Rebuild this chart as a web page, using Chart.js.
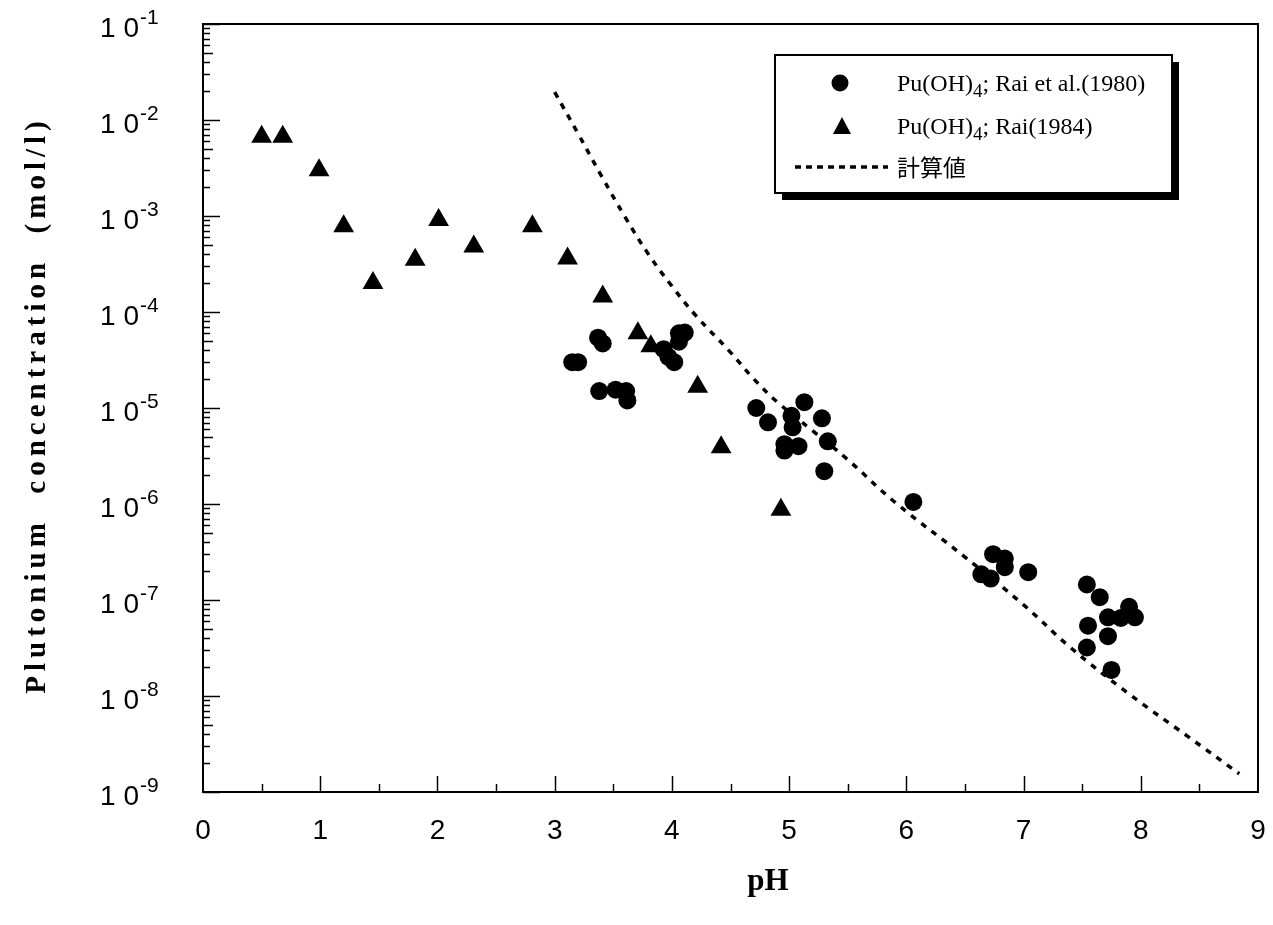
<!DOCTYPE html>
<html>
<head>
<meta charset="utf-8">
<script src="https://cdn.jsdelivr.net/npm/chart.js@4.4.1/dist/chart.umd.min.js"></script>
<style>
  html, body { margin: 0; padding: 0; background: #fff; }
  #wrap { width: 1273px; height: 925px; position: relative; }
</style>
</head>
<body>
<div id="wrap"><canvas id="chart"></canvas></div>
<script>
"use strict";

// Pu(OH)4; Rai et al.(1980)  — circles
const rai1980PH = [3.15, 3.20, 3.37, 3.41, 3.38, 3.52, 3.61, 3.62, 3.93, 3.97, 4.02, 4.06, 4.11, 4.06,
                   4.72, 4.82, 5.02, 5.03, 5.13, 5.28, 4.96, 4.96, 5.08, 5.33, 5.30,
                   6.06, 6.74, 6.84, 6.84, 6.64, 6.72, 7.04, 7.54, 7.65, 7.90, 7.95, 7.83, 7.72, 7.55, 7.72, 7.54, 7.75];
const rai1980Conc = [3.0e-5, 3.0e-5, 5.4e-5, 4.7e-5, 1.5e-5, 1.55e-5, 1.5e-5, 1.2e-5, 4.1e-5, 3.4e-5, 3.0e-5, 6.0e-5, 6.1e-5, 4.9e-5,
                     1.0e-5, 7.1e-6, 8.3e-6, 6.3e-6, 1.15e-5, 7.8e-6, 4.2e-6, 3.6e-6, 4.0e-6, 4.5e-6, 2.2e-6,
                     1.05e-6, 3.0e-7, 2.2e-7, 2.7e-7, 1.85e-7, 1.67e-7, 1.95e-7, 1.45e-7, 1.07e-7, 8.5e-8, 6.6e-8, 6.5e-8, 6.6e-8, 5.4e-8, 4.2e-8, 3.2e-8, 1.87e-8];

// Pu(OH)4; Rai(1984) — triangles
const rai1984PH   = [0.50, 0.68, 0.99, 1.20, 1.45, 1.81, 2.01, 2.31, 2.81, 3.11, 3.41, 3.71, 3.82, 4.22, 4.42, 4.93];
const rai1984Conc = [6.7e-3, 6.7e-3, 3.0e-3, 7.8e-4, 2.0e-4, 3.5e-4, 9.1e-4, 4.8e-4, 7.8e-4, 3.6e-4, 1.45e-4, 6.0e-5, 4.4e-5, 1.66e-5, 3.9e-6, 8.7e-7];

// 計算値 — dotted curve
const calcPH   = [3.0, 3.2, 3.4, 3.6, 3.8, 4.0, 4.2, 4.5, 4.7, 4.9, 5.2, 5.5, 5.9, 6.5, 7.0, 7.4, 7.9, 8.4, 8.84];
const calcConc = [1.95e-2, 7.2e-3, 2.6e-3, 9.8e-4, 4.0e-4, 1.86e-4, 9.3e-5, 3.8e-5, 2.0e-5, 1.15e-5, 5.8e-6, 2.9e-6, 1.05e-6, 2.8e-7, 8.9e-8, 3.2e-8, 1.05e-8, 3.8e-9, 1.55e-9];

const xTicks = [0, 1, 2, 3, 4, 5, 6, 7, 8, 9];
const yExponents = [-1, -2, -3, -4, -5, -6, -7, -8, -9];

const labels = {
  rai1980: ["Pu(OH)", "4", "; Rai et al.(1980)"],
  rai1984: ["Pu(OH)", "4", "; Rai(1984)"],
  calc: "計算値",
  yTitle: "Plutonium  concentration  (mol/l)",
  xTitle: "pH",
};

const toPts = (xs, ys) => xs.map((x, i) => ({ x, y: ys[i] }));

const SERIF = "'Liberation Serif', 'Times New Roman', serif";
const SANS  = "'Liberation Sans', Arial, sans-serif";

const decor = {
  id: "decor",
  afterDraw(chart) {
    const { ctx, chartArea: a, scales: { x, y } } = chart;
    ctx.save();
    ctx.strokeStyle = "#000";
    ctx.fillStyle = "#000";

    // frame
    ctx.lineWidth = 2;
    ctx.strokeRect(a.left, a.top, a.right - a.left, a.bottom - a.top);

    // x ticks pointing up
    ctx.lineWidth = 1.5;
    for (let v = 0.5; v < 9; v += 0.5) {
      const px = Math.round(x.getPixelForValue(v)) + 0.5;
      const len = Number.isInteger(v) ? 16 : 8;
      ctx.beginPath(); ctx.moveTo(px, a.bottom); ctx.lineTo(px, a.bottom - len); ctx.stroke();
    }

    // y log ticks pointing right
    for (let e = -9; e <= -1; e++) {
      for (let m = 1; m <= 9; m++) {
        const v = m * Math.pow(10, e);
        if (v > 0.1 + 1e-12) continue;
        const py = Math.round(y.getPixelForValue(v)) + 0.5;
        const len = m === 1 ? 17 : (m === 5 ? 10 : 7);
        ctx.beginPath(); ctx.moveTo(a.left, py); ctx.lineTo(a.left + len, py); ctx.stroke();
      }
    }

    // y tick labels 10^n
    yExponents.forEach(e => {
      const py = y.getPixelForValue(Math.pow(10, e));
      ctx.font = "28px " + SANS;
      ctx.textAlign = "right";
      ctx.textBaseline = "middle";
      ctx.fillText("1 0", 139, py + 5);
      ctx.font = "21px " + SANS;
      ctx.textAlign = "left";
      ctx.fillText(String(e), 140, py - 6);
    });

    // y title
    ctx.save();
    ctx.translate(38, 405);
    ctx.rotate(-Math.PI / 2);
    ctx.font = "bold 29px " + SERIF;
    ctx.letterSpacing = "5px";
    ctx.textAlign = "center";
    ctx.textBaseline = "middle";
    ctx.fillText(labels.yTitle, 0, 0);
    ctx.restore();

    // x title
    ctx.font = "bold 31px " + SERIF;
    ctx.textAlign = "center";
    ctx.textBaseline = "middle";
    ctx.fillText(labels.xTitle, 768, 882);

    // legend box with shadow
    const L = 775, T = 55, R = 1172, B = 193;
    ctx.fillRect(L + 7, T + 7, R - L, B - T);
    ctx.fillStyle = "#fff";
    ctx.fillRect(L, T, R - L, B - T);
    ctx.fillStyle = "#000";
    ctx.lineWidth = 2;
    ctx.strokeRect(L, T, R - L, B - T);

    // legend markers
    ctx.beginPath(); ctx.arc(840, 83, 8.5, 0, Math.PI * 2); ctx.fill();
    ctx.beginPath(); ctx.moveTo(842, 117); ctx.lineTo(851, 134); ctx.lineTo(833, 134); ctx.closePath(); ctx.fill();
    ctx.lineWidth = 3.5;
    ctx.setLineDash([6, 5]);
    ctx.beginPath(); ctx.moveTo(795, 167); ctx.lineTo(888, 167); ctx.stroke();
    ctx.setLineDash([]);

    // legend texts
    const drawSub = (parts, x0, base) => {
      ctx.textAlign = "left";
      ctx.textBaseline = "alphabetic";
      ctx.font = "24px " + SERIF;
      ctx.fillText(parts[0], x0, base);
      let cx = x0 + ctx.measureText(parts[0]).width;
      ctx.font = "19px " + SERIF;
      ctx.fillText(parts[1], cx, base + 6);
      cx += ctx.measureText(parts[1]).width;
      ctx.font = "24px " + SERIF;
      ctx.fillText(parts[2], cx, base);
    };
    drawSub(labels.rai1980, 897, 91);
    drawSub(labels.rai1984, 897, 134);
    ctx.font = "23px 'Noto Sans CJK JP', sans-serif";
    ctx.textBaseline = "middle";
    ctx.fillText(labels.calc, 897, 167);

    ctx.restore();
  },
};

new Chart(document.getElementById("chart"), {
  type: "scatter",
  data: {
    datasets: [
      {
        label: "計算値",
        type: "line",
        data: toPts(calcPH, calcConc),
        borderColor: "#000",
        borderWidth: 3.5,
        borderDash: [6, 7],
        pointRadius: 0,
        tension: 0.4,
        fill: false,
      },
      {
        label: "Pu(OH)4; Rai et al.(1980)",
        data: toPts(rai1980PH, rai1980Conc),
        pointStyle: "circle",
        pointRadius: 9,
        backgroundColor: "#000",
        borderColor: "#000",
        borderWidth: 0,
      },
      {
        label: "Pu(OH)4; Rai(1984)",
        data: toPts(rai1984PH, rai1984Conc),
        pointStyle: "triangle",
        pointRadius: 12,
        backgroundColor: "#000",
        borderColor: "#000",
        borderWidth: 0,
      },
    ],
  },
  options: {
    responsive: true,
    maintainAspectRatio: false,
    animation: false,
    layout: { padding: { top: 24, right: 15, left: 0, bottom: 0 } },
    plugins: { legend: { display: false }, tooltip: { enabled: false } },
    scales: {
      x: {
        type: "linear",
        min: 0, max: 9,
        afterFit: s => { s.height = 133; s.paddingLeft = 0; s.paddingRight = 0; },
        afterBuildTicks: s => { s.ticks = xTicks.map(v => ({ value: v })); },
        grid: { display: false, drawTicks: false },
        border: { display: false },
        ticks: {
          color: "#000",
          padding: 22,
          font: { size: 28, family: "'Liberation Sans Narrow', 'Liberation Sans', Arial, sans-serif" },
          maxRotation: 0,
        },
      },
      y: {
        type: "logarithmic",
        min: 1e-9, max: 1e-1,
        afterFit: s => { s.width = 203; },
        grid: { display: false, drawTicks: false },
        border: { display: false },
        ticks: { display: false },
      },
    },
  },
  plugins: [decor],
});
</script>
</body>
</html>
